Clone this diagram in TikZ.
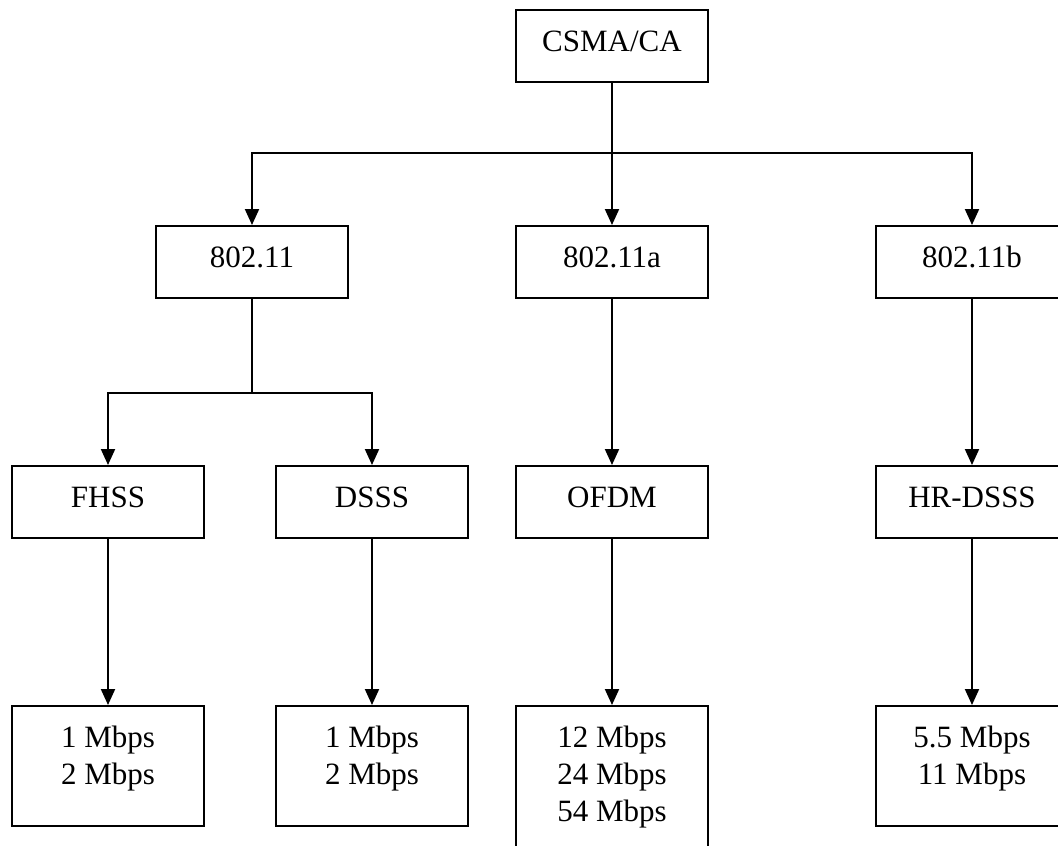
\documentclass[tikz,border=0pt]{standalone}
\usepackage{fontspec}
\setmainfont{Liberation Serif}
\usetikzlibrary{arrows.meta}
\newcommand{\boxtext}[2]{\parbox[t][#1pt][t]{192pt}{\centering\fontsize{31}{37}\selectfont\rule{0pt}{41pt}#2}}
\begin{document}
\begin{tikzpicture}[x=1pt,y=-1pt,
  box/.style={draw, line width=2pt, inner sep=0pt, outer sep=1pt, anchor=north, fill=white},
  arr/.style={line width=2pt, -{Triangle[length=16pt,width=14pt]}},
  ln/.style={line width=2pt}]
\useasboundingbox (0,0) rectangle (1058,846);
\fill[white] (0,0) rectangle (1058,846);
% level 0
\node[box] (csma) at (612,9) {\boxtext{72}{CSMA/CA}};
% level 1
\node[box] (s80211)  at (252,225) {\boxtext{72}{802.11}};
\node[box] (s80211a) at (612,225) {\boxtext{72}{802.11a}};
\node[box] (s80211b) at (972,225) {\boxtext{72}{802.11b}};
% level 2
\node[box] (fhss) at (108,465) {\boxtext{72}{FHSS}};
\node[box] (dsss) at (372,465) {\boxtext{72}{DSSS}};
\node[box] (ofdm) at (612,465) {\boxtext{72}{OFDM}};
\node[box] (hrdsss) at (972,465) {\boxtext{72}{HR-DSSS}};
% level 3
\node[box] (r1) at (108,705) {\boxtext{120}{1 Mbps\\2 Mbps}};
\node[box] (r2) at (372,705) {\boxtext{120}{1 Mbps\\2 Mbps}};
\node[box] (r3) at (612,705) {\boxtext{160}{12 Mbps\\24 Mbps\\54 Mbps}};
\node[box] (r4) at (972,705) {\boxtext{120}{5.5 Mbps\\11 Mbps}};
% connectors
\coordinate (j1) at (612,153);
\coordinate (j2) at (252,393);
\draw[arr] (csma.south) -- (s80211a.north);
\draw[arr] (j1) -| (s80211.north);
\draw[arr] (j1) -| (s80211b.north);
\draw[ln] (s80211.south) -- (j2);
\draw[arr] (j2) -| (fhss.north);
\draw[arr] (j2) -| (dsss.north);
\draw[arr] (s80211a.south) -- (ofdm.north);
\draw[arr] (s80211b.south) -- (hrdsss.north);
\draw[arr] (fhss.south) -- (r1.north);
\draw[arr] (dsss.south) -- (r2.north);
\draw[arr] (ofdm.south) -- (r3.north);
\draw[arr] (hrdsss.south) -- (r4.north);
\end{tikzpicture}
\end{document}
